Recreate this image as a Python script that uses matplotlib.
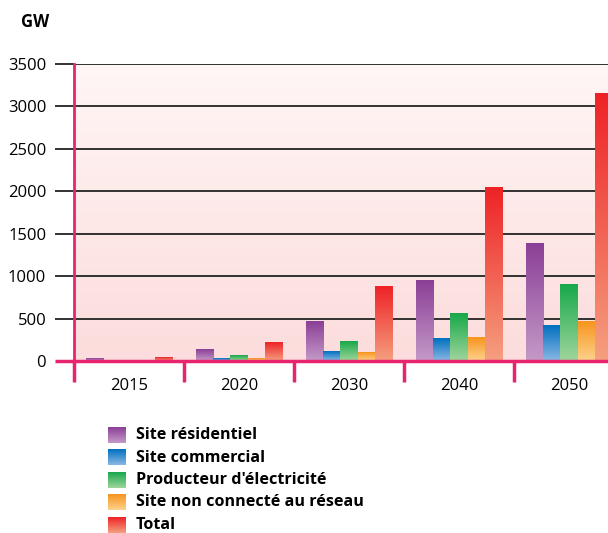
import numpy as np
import matplotlib
matplotlib.use("Agg")
import matplotlib.pyplot as plt
from matplotlib.colors import LinearSegmentedColormap
from matplotlib.transforms import blended_transform_factory, offset_copy

plt.rcParams['font.family'] = ['Open Sans', 'DejaVu Sans']

# Installed capacity by segment (GW)
years = ['2015', '2020', '2030', '2040', '2050']
residentiel = [35, 130, 460, 950, 1390]
commercial = [5, 35, 115, 260, 420]
producteur = [5, 60, 230, 560, 900]
non_connecte = [5, 35, 100, 280, 470]
total = [45, 220, 880, 2040, 3150]

series = [
    ('Site résidentiel', residentiel, ('#c49ac8', '#8b3f96')),
    ('Site commercial', commercial, ('#8ab8e4', '#0070c0')),
    ("Producteur d'électricité", producteur, ('#a0d69c', '#17a84a')),
    ('Site non connecté au réseau', non_connecte, ('#fdd28c', '#f7941d')),
    ('Total', total, ('#f5a080', '#ee2226')),
]

pink = '#e8246e'
grad = np.linspace(0, 1, 256).reshape(-1, 1)

fig = plt.figure(figsize=(6.08, 5.33), dpi=100)
ax = fig.add_axes([74 / 608, 1 - 361 / 533, 550 / 608, 297 / 533])

# soft pink backdrop, lighter toward the top
bg = LinearSegmentedColormap.from_list('bg', ['#fcdcdc', '#fff6f5'])
ax.imshow(grad, cmap=bg, extent=[0, 1, 0, 1], transform=ax.transAxes,
          aspect='auto', origin='lower', zorder=0)

width = 0.157
n = len(series)
x = np.arange(len(years)) + 0.5
for i, (label, vals, (c0, c1)) in enumerate(series):
    cmap = LinearSegmentedColormap.from_list(label, [c0, c1])
    pos = x + (i - (n - 1) / 2) * width
    bars = ax.bar(pos, vals, width, color='none', zorder=3)
    for b in bars:
        bx, bw, bh = b.get_x(), b.get_width(), b.get_height()
        if bh <= 0:
            continue
        ax.imshow(grad, cmap=cmap, extent=[bx, bx + bw, 0, bh],
                  aspect='auto', origin='lower', zorder=3)

ax.set_xlim(0, 5)
ax.set_ylim(0, 3500)
ax.set_yticks(np.arange(500, 3501, 500))
ax.set_yticks([0], minor=True)
ax.set_yticklabels(['0'], minor=True)
ax.yaxis.grid(True, color='#222222', linewidth=1.3, zorder=2)
ax.set_axisbelow(True)

for s in ['top', 'right']:
    ax.spines[s].set_visible(False)
ax.spines['left'].set_color(pink)
ax.spines['left'].set_linewidth(2)
ax.spines['left'].set_zorder(5)
ax.spines['bottom'].set_color(pink)
ax.spines['bottom'].set_linewidth(2.5)
ax.spines['bottom'].set_zorder(5)

ax.tick_params(axis='y', which='major', length=14, width=1.3,
               color='#222222', labelsize=12, pad=6)
ax.tick_params(axis='y', which='minor', length=14, width=2.5,
               color=pink, labelsize=12, pad=6)

# category separators below the axis, labels between them
ax.set_xticks(np.arange(0, 5))
ax.set_xticklabels([])
ax.set_xticks(x, minor=True)
ax.set_xticklabels(years, minor=True)
ax.tick_params(axis='x', which='major', length=15, width=2.5, color=pink)
ax.tick_params(axis='x', which='minor', length=0, labelsize=12, pad=12)

fig.text(35 / 608, 1 - 22 / 533, 'GW', fontsize=12, fontweight='bold',
         ha='center', va='center')

# legend with gradient swatches
leg = fig.add_axes([0, 0, 1, 1], zorder=-1)
leg.set_xlim(0, 608)
leg.set_ylim(533, 0)
leg.axis('off')
for i, (label, vals, (c0, c1)) in enumerate(series):
    cy = 435 + i * 22.5
    cmap = LinearSegmentedColormap.from_list(label + '_leg', [c0, c1])
    leg.imshow(grad, cmap=cmap, extent=[108, 126, cy + 8, cy - 8],
               aspect='auto', origin='lower')
    leg.text(136, cy, label, fontsize=11.6, fontweight='bold',
             ha='left', va='center')
leg.set_xlim(0, 608)
leg.set_ylim(533, 0)

fig.savefig('out.png', dpi=100)
